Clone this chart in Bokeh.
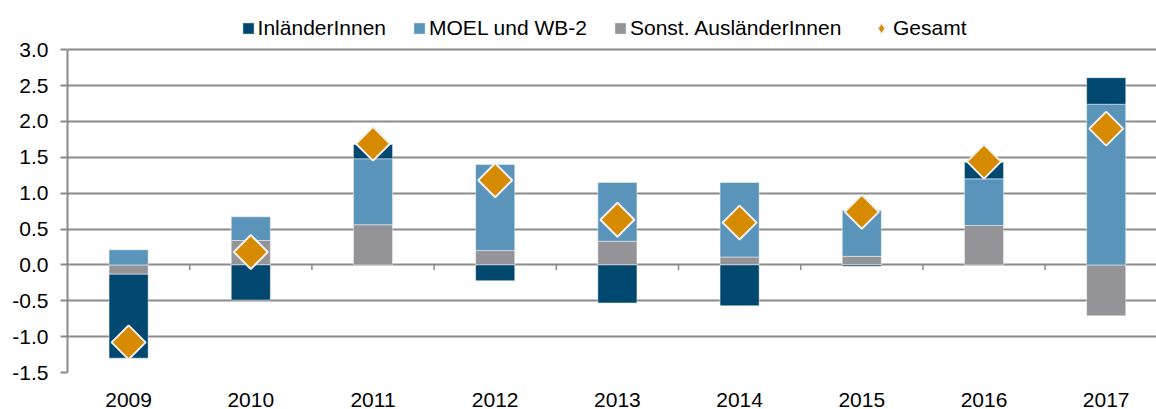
import numpy as np
from bokeh.plotting import figure
from bokeh.models import Range1d, FixedTicker, Legend, LegendItem
from bokeh.embed import file_html
from bokeh.resources import INLINE

categories = ["2009", "2010", "2011", "2012", "2013", "2014", "2015", "2016", "2017"]
inlaender = [-1.17, -0.49, 0.20, -0.22, -0.53, -0.57, -0.02, 0.23, 0.37]
moel = [0.21, 0.33, 0.92, 1.20, 0.82, 1.04, 0.64, 0.65, 2.24]
sonst = [-0.13, 0.34, 0.56, 0.20, 0.33, 0.11, 0.12, 0.55, -0.71]
gesamt = [-1.08, 0.18, 1.69, 1.18, 0.63, 0.59, 0.74, 1.44, 1.90]
series_names = ["InländerInnen", "MOEL und WB-2", "Sonst. AusländerInnen", "Gesamt"]
y_ticks = [-1.5, -1.0, -0.5, 0.0, 0.5, 1.0, 1.5, 2.0, 2.5, 3.0]

C_INL = "#00486f"
C_MOEL = "#5b94ba"
C_SONST = "#949498"
C_GES = "#d68a00"
GRID = "#8a8a8a"
FONT = "Liberation Sans"

W, H = 1156, 409
LEFT, BOTTOM = 67, 35
Y_TOP_PX = 49.5          # pixel row of the highest tick
px_per_unit = (H - BOTTOM - Y_TOP_PX) / (max(y_ticks) - min(y_ticks))
y_end = max(y_ticks) + Y_TOP_PX / px_per_unit
cat_px = 122.2
x_end = -0.5 + (W - LEFT) / cat_px

x = np.arange(len(categories))
p = figure(width=W, height=H, output_backend="svg", toolbar_location=None,
           x_range=Range1d(-0.5, x_end), y_range=Range1d(min(y_ticks), y_end),
           min_border_left=LEFT, min_border_right=0, min_border_top=0, min_border_bottom=BOTTOM)
p.outline_line_color = None
p.background_fill_color = "white"

# stacking order from zero outward: Sonst, MOEL, Inländer
pos = np.zeros(len(categories))
neg = np.zeros(len(categories))
renderers = {}
for name, vals, col in [("Sonst. AusländerInnen", sonst, C_SONST),
                        ("MOEL und WB-2", moel, C_MOEL),
                        ("InländerInnen", inlaender, C_INL)]:
    v = np.array(vals, dtype=float)
    bottom = np.where(v >= 0, pos, neg)
    top = bottom + v
    pos = np.where(v >= 0, top, pos)
    neg = np.where(v < 0, top, neg)
    renderers[name] = p.vbar(x=x, bottom=bottom, top=top, width=0.32, fill_color=col,
                             line_color="white", line_alpha=0.45, line_width=1)

# small diamond glyph used as the legend key (hidden under the large markers)
gesamt_key = p.scatter(x=x, y=gesamt, marker="diamond", size=2, fill_color=C_GES,
                       line_color="#e4e4e4", line_width=1)
renderers["Gesamt"] = p.scatter(x=x, y=gesamt, marker="square", size=24, angle=np.pi / 4,
                                fill_color=C_GES, line_color="#f0f0f0", line_width=2)

# small category tick marks on the zero line
bounds = x + 0.5
p.segment(x0=bounds, y0=np.zeros(len(bounds)), x1=bounds, y1=np.full(len(bounds), -0.07),
          line_color=GRID, line_width=1.5, level="underlay")

p.xgrid.grid_line_color = None
p.ygrid.grid_line_color = GRID
p.ygrid.grid_line_width = 2
p.ygrid.ticker = FixedTicker(ticks=y_ticks)

p.yaxis.ticker = FixedTicker(ticks=y_ticks)
p.yaxis.bounds = (min(y_ticks), max(y_ticks))
p.yaxis.major_label_overrides = {t: f"{t:.1f}" for t in y_ticks}
p.yaxis.axis_line_color = GRID
p.yaxis.axis_line_width = 2
p.yaxis.major_tick_line_color = GRID
p.yaxis.major_tick_line_width = 2
p.yaxis.major_tick_out = 7
p.yaxis.major_tick_in = 0
p.yaxis.minor_tick_line_color = None
p.yaxis.major_label_standoff = 12
p.yaxis.major_label_text_font = FONT
p.yaxis.major_label_text_font_size = "21px"
p.yaxis.major_label_text_color = "black"

p.xaxis.ticker = FixedTicker(ticks=list(x))
p.xaxis.major_label_overrides = {int(i): c for i, c in zip(x, categories)}
p.xaxis.axis_line_color = None
p.xaxis.major_tick_line_color = None
p.xaxis.minor_tick_line_color = None
p.xaxis.major_label_standoff = 14
p.xaxis.major_label_text_font = FONT
p.xaxis.major_label_text_font_size = "21px"
p.xaxis.major_label_text_color = "black"

common = dict(orientation="horizontal", padding=0, margin=0, border_line_color=None,
              background_fill_alpha=0, label_text_font=FONT, label_text_font_size="21px",
              label_text_color="black")
legend1 = Legend(items=[LegendItem(label=n, renderers=[renderers[n]]) for n in series_names[:3]],
                 location=(173.6, 332), glyph_width=14, glyph_height=14,
                 label_standoff=3, spacing=26, **common)
legend2 = Legend(items=[LegendItem(label=series_names[3], renderers=[gesamt_key])],
                 location=(802, 332), glyph_width=24, glyph_height=24,
                 label_standoff=0, **common)
p.add_layout(legend1, "center")
p.add_layout(legend2, "center")

open("out.html", "w").write(file_html(p, INLINE))
